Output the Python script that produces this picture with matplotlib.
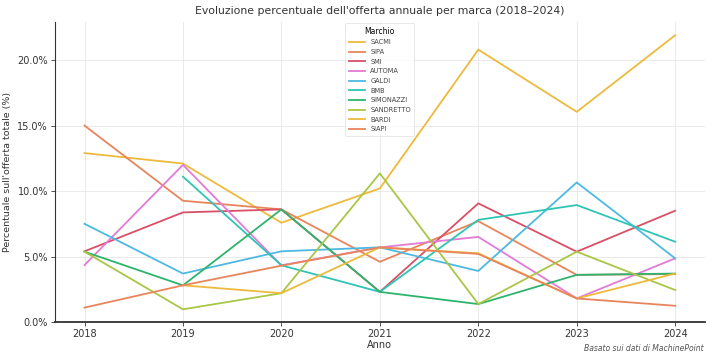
import numpy as np
import matplotlib
matplotlib.use("Agg")
import matplotlib.pyplot as plt

years = [2018, 2019, 2020, 2021, 2022, 2023, 2024]

# quote percentuali per marca (NaN = marca assente quell'anno)
sacmi = [12.9, 12.1, 7.58, 10.2, 20.8, 16.05, 21.9]
sipa = [15.0, 9.26, 8.6, 4.6, 7.7, 3.6, 3.66]
smi = [5.4, 8.37, 8.6, 2.3, 9.06, 5.37, 8.5]
automa = [4.35, 12.0, 4.33, 5.7, 6.5, 1.8, 4.86]
galdi = [7.5, 3.7, 5.4, 5.7, 3.9, 10.66, 4.86]
bmb = [np.nan, 11.1, 4.33, 2.3, 7.8, 8.93, 6.13]
simonazzi = [5.37, 2.8, 8.6, 2.3, 1.37, 3.6, 3.7]
sandretto = [5.37, 0.97, 2.2, 11.35, 1.37, 5.37, 2.44]
bardi = [np.nan, 2.8, 2.2, 5.7, 5.25, 1.8, 3.7]
siapi = [1.1, 2.8, 4.3, 5.7, 5.2, 1.8, 1.24]

brands = ["SACMI", "SIPA", "SMI", "AUTOMA", "GALDI", "BMB",
          "SIMONAZZI", "SANDRETTO", "BARDI", "SIAPI"]
series = [sacmi, sipa, smi, automa, galdi, bmb, simonazzi, sandretto, bardi, siapi]

colors = ["#EDBA3C", "#E8855C", "#DA4F66", "#E27BD6", "#4DB9E2",
          "#2FC4B6", "#2DB46C", "#A9C646"]

fig, ax = plt.subplots(figsize=(7.14, 3.57), dpi=100)
fig.subplots_adjust(left=0.077, right=0.987, bottom=0.098, top=0.938)

for i, (name, vals) in enumerate(zip(brands, series)):
    ax.plot(years, vals, color=colors[i % len(colors)], lw=1.3, label=name)

ax.set_xlim(2017.7, 2024.3)
ax.set_ylim(0, 22.9)
ax.set_yticks([0, 5, 10, 15, 20])
ax.set_yticklabels([f"{v:.1f}%" for v in [0, 5, 10, 15, 20]])
ax.set_xticks(years)
ax.tick_params(labelsize=7, colors="#333333", length=3, width=0.6, pad=2)

ax.grid(True, color="#e6e6e6", lw=0.6)
ax.set_axisbelow(True)
for s in ["top", "right"]:
    ax.spines[s].set_visible(False)
ax.spines["left"].set_color("#333333")
ax.spines["left"].set_linewidth(0.8)
ax.spines["bottom"].set_color("#333333")
ax.spines["bottom"].set_linewidth(1.3)

ax.set_title("Evoluzione percentuale dell'offerta annuale per marca (2018–2024)",
             fontsize=7.8, color="#333333", pad=6)
ax.set_xlabel("Anno", fontsize=7, color="#333333", labelpad=1)
ax.set_ylabel("Percentuale sull'offerta totale (%)", fontsize=6.8, color="#333333",
              labelpad=4)

leg = ax.legend(title="Marchio", loc="upper center", fontsize=4.8, title_fontsize=5.5,
                frameon=True, handlelength=2.4, labelspacing=0.55,
                borderaxespad=0.2, borderpad=0.5)
leg.get_frame().set_edgecolor("#dddddd")
leg.get_frame().set_linewidth(0.6)
for t in leg.get_texts():
    t.set_color("#444444")

fig.text(0.985, 0.012, "Basato sui dati di MachinePoint", ha="right", va="bottom",
         fontsize=5.5, style="italic", color="#555555")

plt.savefig("out.png", dpi=100)
